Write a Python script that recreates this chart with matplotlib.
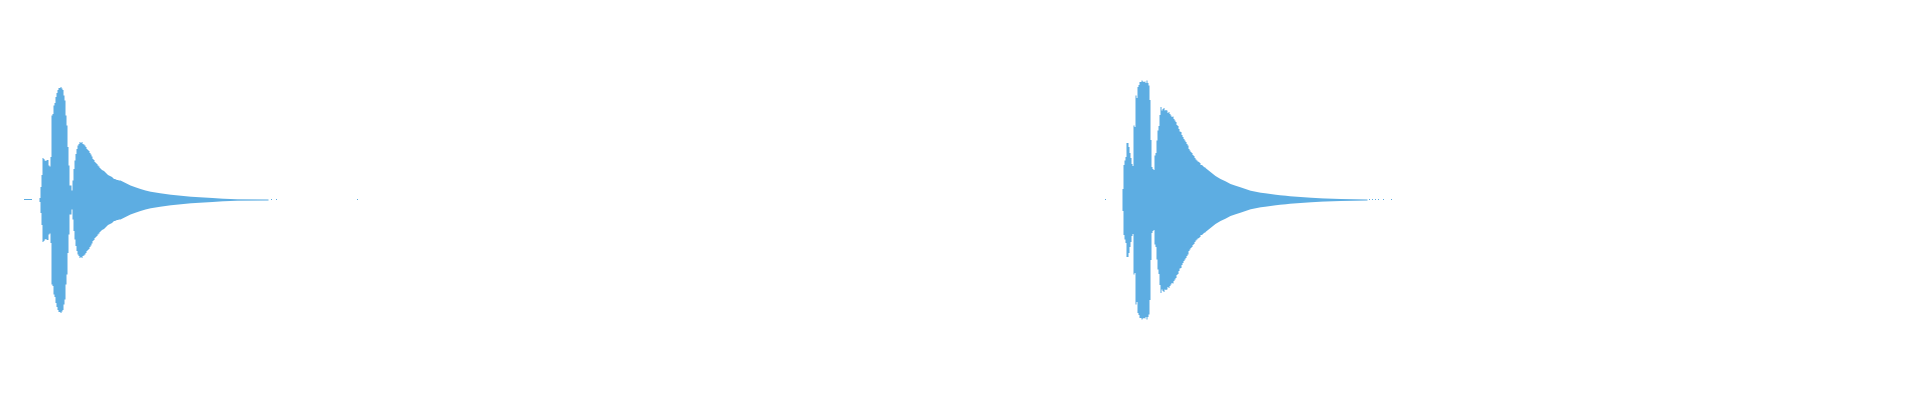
import numpy as np
import matplotlib
matplotlib.use("Agg")
import matplotlib.pyplot as plt

# waveform envelope (peak amplitude in px)
wave_color = "#5dade2"

# first clip: short lead-in, per-column body, decaying tail, stray dots
left_lead = (24, 8)  # start column, length
left_start = 39
left_amp = [2, 13, 25, 42, 41, 39.5, 39, 40, 40, 34.5, 33.5, 43,
            84.5, 86, 94.5, 97, 103, 107, 110, 112, 112, 113, 111.5, 110,
            104.5, 99.5, 84.5, 74.5, 53, 34.5, 14.5, 14.5, 9.5, 19.5, 31,
            39.5, 46, 51, 54.5, 56, 58, 57, 58, 56, 55.5, 54.5, 53, 51, 50,
            49, 47, 45.5, 43.5, 41, 40, 38, 37, 36, 34.5, 33.5, 32, 31, 30,
            29.5, 29, 28, 27, 26, 25, 24.5, 24, 23.5, 23, 22, 21, 21, 20.5,
            20, 20, 19.5, 19.5]
left_tail_x = [120, 125, 130, 135, 140, 145, 150, 160, 170, 180, 190, 200,
               212, 222, 237, 268]
left_tail_amp = [19.5, 17, 14.5, 12.7, 11, 9.5, 8.3, 6.7, 5.3, 4.3, 3.3, 2.7,
                 2, 1.3, 0.7, 0.5]
left_dots = [271, 276, 357]

# second clip
right_lead = (1105, 1)
right_start = 1122
right_amp = [11, 35, 39.5, 43, 57, 57, 53, 47, 42, 36, 34, 74.5, 73,
             104.5, 102, 113, 115, 118, 118, 119.5, 118.5, 118, 118.5, 117,
             119.5, 117, 114.5, 100, 60, 33, 31, 30, 44.5, 47, 59.5, 69.5,
             74, 85, 93, 89.5, 91, 92, 89.5, 90, 89.5, 87, 88, 86, 84.5, 83,
             83.5, 81, 79.5, 78, 75, 74, 71, 68.5, 68, 65, 63, 61, 59.5, 58,
             56, 54.5, 51, 49.5, 48, 47, 45, 44, 42, 40.5, 39.5, 38.5, 38,
             37, 35, 35, 34, 33, 32.5]
right_tail_x = [1205, 1210, 1215, 1220, 1225, 1230, 1235, 1240, 1245, 1250,
                1255, 1260, 1265, 1270, 1275, 1280, 1285, 1290, 1300, 1310,
                1322, 1340, 1367]
right_tail_amp = [32, 28, 24, 21, 18.7, 16, 14.3, 12.7, 11, 9.3, 8.3, 7.3,
                  6.7, 6, 5.3, 4.7, 4.3, 3.7, 3, 2.3, 1.6, 1.0, 0.5]
right_dots = [1369, 1372, 1375, 1378, 1383, 1391]

fig = plt.figure(figsize=(19.2, 4), dpi=100)
ax = fig.add_axes([0, 0, 1, 1])

clips = [
    (left_lead, left_start, left_amp, left_tail_x, left_tail_amp, left_dots),
    (right_lead, right_start, right_amp, right_tail_x, right_tail_amp, right_dots),
]
for lead, start, amp, tail_x, tail_amp, dots in clips:
    # body as one-pixel columns, then the decay, as a single outline
    edges = start + np.arange(len(amp) + 1)
    bx = np.repeat(edges, 2)[1:-1]
    ba = np.repeat(np.asarray(amp, dtype=float), 2)
    x = np.concatenate([bx, tail_x])
    a = np.concatenate([ba, tail_amp])
    ax.fill_between(x, -a, a, color=wave_color, linewidth=0)
    # lead-in line and isolated samples
    ax.bar(lead[0], 1, width=lead[1], bottom=-0.5, align="edge", color=wave_color, linewidth=0)
    ax.bar(dots, 1, width=1, bottom=-0.5, align="edge", color=wave_color, linewidth=0)

ax.set_xlim(0, 1920)
ax.set_ylim(-200.5, 199.5)
ax.axis("off")

fig.savefig("out.png", dpi=100, facecolor="white")
